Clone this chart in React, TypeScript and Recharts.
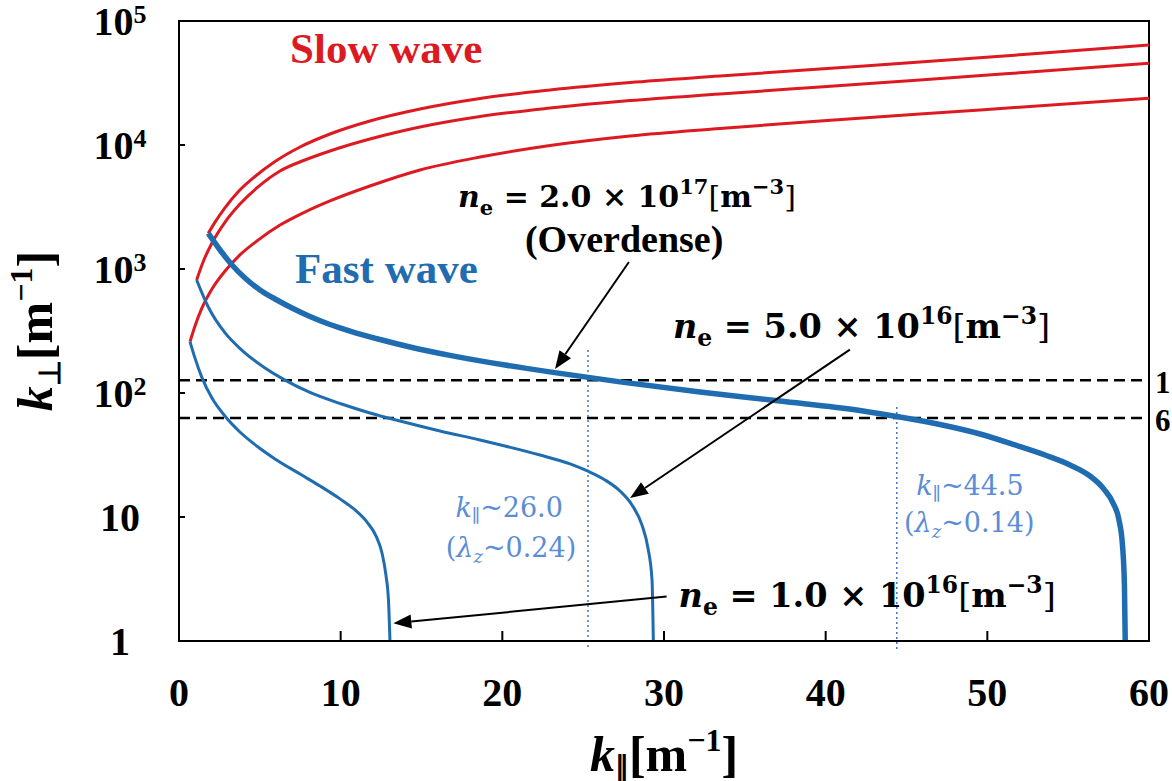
import { LineChart, Line, XAxis, YAxis, ReferenceLine, ReferenceArea, ReferenceDot } from 'recharts'

const kParTicks = [0, 10, 20, 30, 40, 50, 60]
const kPerpTicks = [1, 10, 100, 1000, 10000, 100000]

// slow wave branches, [k_par, k_perp]
const slowHigh = [[1.81, 1940], [2.23, 2390], [2.85, 3130], [3.65, 4180], [4.7, 5570], [5.94, 7360], [7.49, 9640], [9.34, 12270], [11.81, 15620], [14.91, 19510], [18.62, 23720], [22.95, 27790], [27.9, 31910], [33.46, 35990], [39.65, 41020], [45.83, 46680], [52.64, 54180], [60, 64000]]
const slowMid = [[1.09, 815], [1.49, 1140], [2.04, 1620], [2.85, 2390], [3.77, 3340], [4.89, 4590], [6.25, 6170], [7.79, 7570], [9.34, 8950], [11.81, 11180], [14.91, 13970], [18.62, 16980], [22.95, 19870], [27.9, 22850], [33.46, 25780], [39.65, 29370], [45.83, 33440], [52.64, 38780], [60, 45600]]
const slowLow = [[0.68, 259], [0.99, 347], [1.42, 485], [2.04, 690], [2.85, 963], [3.77, 1300], [4.89, 1710], [6.25, 2260], [7.79, 2880], [9.34, 3540], [11.81, 4670], [14.91, 6290], [18.62, 8000], [22.95, 9910], [27.9, 11830], [33.46, 13590], [39.65, 15620], [45.83, 17780], [52.64, 20440], [60, 23820]]

// fast wave branches
const fastHigh = [[1.81, 1940], [2.54, 1423], [3.28, 1077], [4.08, 846], [5.01, 677], [5.94, 573], [6.99, 485], [8.1, 414], [9.34, 357], [10.58, 316], [12.43, 270], [14.29, 235], [16.76, 201], [20.16, 168], [23.57, 144], [27.28, 123], [32.23, 102], [37.17, 86.2], [42.12, 72.3], [44.6, 64], [47.07, 55.7], [49.55, 46.7], [51.71, 38.1], [53.57, 31.6], [55.11, 26.3], [56.35, 21.4], [57.21, 16.8], [57.77, 13], [58.14, 9.5], [58.36, 5.9], [58.48, 2.8], [58.53, 1]]
const fastMid = [[1.09, 815], [1.81, 494], [2.85, 305], [3.88, 222], [5.32, 159], [6.56, 127], [8.1, 101], [10.06, 81.5], [11.81, 69], [13.67, 59.4], [16.14, 49.4], [18.62, 41.8], [20.16, 37.4], [22.33, 31.6], [24.19, 26.8], [25.26, 23.5], [26.35, 19.9], [27.28, 16.2], [28.02, 12.5], [28.64, 8.6], [29.01, 5.6], [29.26, 3.1], [29.34, 1]]
const fastLow = [[0.68, 259], [0.99, 191], [1.4, 135], [2.04, 91], [2.85, 65], [3.77, 48.5], [4.89, 36.7], [5.94, 29.4], [7.49, 22.2], [8.72, 17.8], [9.96, 14], [10.89, 11.4], [11.63, 9.1], [12.19, 7], [12.56, 5.1], [12.8, 3.4], [12.96, 2.1], [13.05, 1]]

const cutoffLines = [127, 63]
const markLines = [[25.3, 222], [44.4, 77]]

const RED = '#DD1A22'
const BLUE = '#1F6DB0'
const LIGHT = '#5A8DD6'
const SERIF = '"Liberation Serif", "Times New Roman", serif'
const MATH = '"DejaVu Serif", serif'

const pts = (a: number[][]) => a.map(([x, y]) => ({ x, y }))

const XTick = (p: any) => (
  <g>
    {p.payload.value > 0 && p.payload.value < 60 && (
      <line x1={p.x} x2={p.x} y1={p.y} y2={p.y - 10} stroke="#000" strokeWidth={2} />
    )}
    <text x={p.x} y={p.y + 65} textAnchor="middle" fontFamily={SERIF} fontWeight="bold" fontSize={40}>
      {p.payload.value}
    </text>
  </g>
)

const YTick = (p: any) => {
  const v = p.payload.value
  const e = Math.round(Math.log10(v))
  return (
    <g>
      {v > 1 && v < 100000 && <line x1={p.x} x2={p.x + 6} y1={p.y} y2={p.y} stroke="#000" strokeWidth={2} />}
      <text x={p.x - 59} y={p.y + 14} textAnchor="middle" fontFamily={SERIF} fontWeight="bold" fontSize={40}>
        {e < 2 ? String(v) : '10'}
        {e >= 2 && <tspan fontSize={26} dy={-12}>{e}</tspan>}
      </text>
    </g>
  )
}

const Arrow = (p: any) => {
  const { x1, y1, x2, y2 } = p
  const a = Math.atan2(y2 - y1, x2 - x1)
  const L = 18
  const W = 7
  const bx = x2 - L * Math.cos(a)
  const by = y2 - L * Math.sin(a)
  const nx = -Math.sin(a) * W
  const ny = Math.cos(a) * W
  return (
    <g>
      <line x1={x1} y1={y1} x2={bx} y2={by} stroke="#000" strokeWidth={2} />
      <polygon points={`${x2},${y2} ${bx + nx},${by + ny} ${bx - nx},${by - ny}`} fill="#000" />
    </g>
  )
}

const neLabel = (mant: string, exp: string, size: number) => (p: any) => (
  <text x={p.cx} y={p.cy} fontFamily={MATH} fontWeight="bold" fontSize={size} fill="#000">
    <tspan fontStyle="italic">n</tspan>
    <tspan fontSize={size * 0.7} dy={size * 0.25}>e</tspan>
    <tspan dy={-size * 0.25}>{` = ${mant} × 10`}</tspan>
    <tspan fontSize={size * 0.7} dy={-size * 0.42}>{exp}</tspan>
    <tspan dy={size * 0.42} fontWeight="normal">[</tspan>
    <tspan>m</tspan>
    <tspan fontSize={size * 0.7} dy={-size * 0.42}>−3</tspan>
    <tspan dy={size * 0.42} fontWeight="normal">]</tspan>
  </text>
)

const plainLabel = (txt: string, color: string, size: number) => (p: any) => (
  <text x={p.cx} y={p.cy} fontFamily={SERIF} fontWeight="bold" fontSize={size} fill={color}>{txt}</text>
)

const kLabel = (val: string) => (p: any) => (
  <text x={p.cx} y={p.cy} fontFamily={MATH} fontSize={27} fill={LIGHT}>
    <tspan fontStyle="italic">k</tspan>
    <tspan fontSize={18} dy={5}>∥</tspan>
    <tspan dy={-5}>{`~${val}`}</tspan>
  </text>
)

const lamLabel = (val: string) => (p: any) => (
  <text x={p.cx} y={p.cy} fontFamily={MATH} fontSize={27} fill={LIGHT}>
    <tspan>(</tspan>
    <tspan fontStyle="italic">λ</tspan>
    <tspan fontStyle="italic" fontSize={18} dy={6}>z</tspan>
    <tspan dy={-6}>{`~${val})`}</tspan>
  </text>
)

const XTitle = (p: any) => (
  <text x={p.cx} y={p.cy} textAnchor="middle" fontFamily={SERIF} fontWeight="bold" fontSize={50}>
    <tspan fontStyle="italic">k</tspan>
    <tspan fontSize={28} dy={5}>∥</tspan>
    <tspan dy={-5}>[m</tspan>
    <tspan fontSize={32} dy={-20}>−1</tspan>
    <tspan dy={20}>]</tspan>
  </text>
)

const YTitle = (p: any) => (
  <text transform={`rotate(-90 ${p.cx} ${p.cy})`} x={p.cx} y={p.cy} textAnchor="middle" fontFamily={SERIF} fontWeight="bold" fontSize={50}>
    <tspan fontStyle="italic">k</tspan>
    <tspan fontSize={30} dy={8}>⊥</tspan>
    <tspan dy={-8}>[m</tspan>
    <tspan fontSize={32} dy={-20}>−1</tspan>
    <tspan dy={20}>]</tspan>
  </text>
)

export default function App() {
  return (
    <div style={{ position: 'absolute', left: 0, top: 0, background: '#fff' }}>
      <LineChart width={1172} height={781} margin={{ top: 21, right: 23, bottom: 0, left: 0 }}>
        <XAxis
          dataKey="x"
          type="number"
          domain={[0, 60]}
          ticks={kParTicks}
          interval={0}
          allowDataOverflow
          height={140}
          axisLine={{ stroke: '#000', strokeWidth: 2 }}
          tickLine={false}
          tickSize={0}
          tickMargin={0}
          tick={XTick}
        />
        <YAxis
          type="number"
          scale="log"
          domain={[1, 100000]}
          ticks={kPerpTicks}
          interval={0}
          allowDataOverflow
          width={179}
          axisLine={{ stroke: '#000', strokeWidth: 2 }}
          tickLine={false}
          tickSize={0}
          tickMargin={0}
          tick={YTick}
        />
        <ReferenceArea x1={0} x2={60} y1={1} y2={100000} fill="none" stroke="#000" strokeWidth={2} />

        {cutoffLines.map(v => (
          <ReferenceLine key={v} y={v} stroke="#000" strokeWidth={2.5} strokeDasharray="11 6" />
        ))}
        {markLines.map(([x, top]) => (
          <ReferenceLine
            key={x}
            segment={[{ x, y: top }, { x, y: 0.86 }]}
            ifOverflow="visible"
            stroke="#3F74CC"
            strokeWidth={1.5}
            strokeDasharray="2 3"
          />
        ))}

        <Line data={pts(slowHigh)} dataKey="y" type="monotone" stroke={RED} strokeWidth={3} dot={false} isAnimationActive={false} />
        <Line data={pts(slowMid)} dataKey="y" type="monotone" stroke={RED} strokeWidth={3} dot={false} isAnimationActive={false} />
        <Line data={pts(slowLow)} dataKey="y" type="monotone" stroke={RED} strokeWidth={3} dot={false} isAnimationActive={false} />
        <Line data={pts(fastHigh)} dataKey="y" type="monotone" stroke={BLUE} strokeWidth={5.5} dot={false} isAnimationActive={false} />
        <Line data={pts(fastMid)} dataKey="y" type="monotone" stroke={BLUE} strokeWidth={3} dot={false} isAnimationActive={false} />
        <Line data={pts(fastLow)} dataKey="y" type="monotone" stroke={BLUE} strokeWidth={3} dot={false} isAnimationActive={false} />

        <ReferenceLine segment={[{ x: 27.83, y: 1138 }, { x: 23.26, y: 156 }]} ifOverflow="visible" shape={Arrow} />
        <ReferenceLine segment={[{ x: 41.5, y: 224 }, { x: 27.9, y: 14.2 }]} ifOverflow="visible" shape={Arrow} />
        <ReferenceLine segment={[{ x: 30.16, y: 2.28 }, { x: 13.26, y: 1.39 }]} ifOverflow="visible" shape={Arrow} />

        <ReferenceDot x={6.87} y={45800} r={0} ifOverflow="visible" shape={plainLabel('Slow wave', RED, 43)} />
        <ReferenceDot x={7.18} y={771} r={0} ifOverflow="visible" shape={plainLabel('Fast wave', BLUE, 43)} />
        <ReferenceDot x={17.26} y={3162} r={0} ifOverflow="visible" shape={neLabel('2.0', '17', 30)} />
        <ReferenceDot x={21.4} y={1379} r={0} ifOverflow="visible" shape={plainLabel('(Overdense)', '#000', 38)} />
        <ReferenceDot x={30.55} y={278} r={0} ifOverflow="visible" shape={neLabel('5.0', '16', 33.5)} />
        <ReferenceDot x={30.9} y={1.89} r={0} ifOverflow="visible" shape={neLabel('1.0', '16', 33.5)} />
        <ReferenceDot x={17.1} y={10} r={0} ifOverflow="visible" shape={kLabel('26.0')} />
        <ReferenceDot x={16.5} y={4.79} r={0} ifOverflow="visible" shape={lamLabel('0.24')} />
        <ReferenceDot x={45.6} y={15} r={0} ifOverflow="visible" shape={kLabel('44.5')} />
        <ReferenceDot x={44.85} y={7.6} r={0} ifOverflow="visible" shape={lamLabel('0.14')} />
        <ReferenceDot x={60.37} y={100} r={0} ifOverflow="visible" shape={plainLabel('1', '#000', 31)} />
        <ReferenceDot x={60.37} y={49} r={0} ifOverflow="visible" shape={plainLabel('6', '#000', 31)} />

        <ReferenceDot x={30} y={0.0893} r={0} ifOverflow="visible" shape={XTitle} />
        <ReferenceDot x={-7.85} y={316} r={0} ifOverflow="visible" shape={YTitle} />
      </LineChart>
    </div>
  )
}
